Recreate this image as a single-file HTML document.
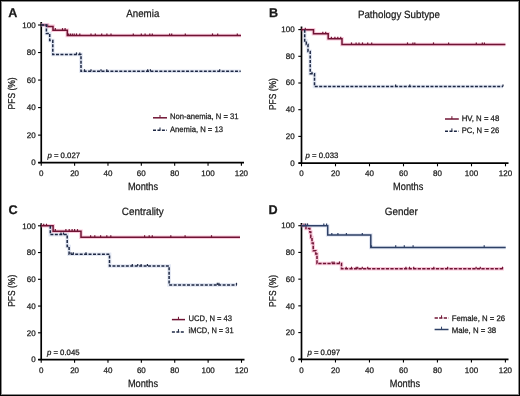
<!DOCTYPE html>
<html><head><meta charset="utf-8"><style>
html,body{margin:0;padding:0;background:#fff;}
body{width:520px;height:396px;overflow:hidden;}
svg{display:block;text-rendering:geometricPrecision;will-change:transform;}
text{font-family:"Liberation Sans", sans-serif;fill:#1a1a1a;stroke:#1a1a1a;stroke-width:0.25px;}
</style></head><body>
<svg width="520" height="396" viewBox="0 0 520 396">
<rect x="0" y="0" width="520" height="396" fill="#fff"/>
<path d="M41.25,22 V162.65" stroke="#000" stroke-width="1.7" fill="none"/>
<path d="M38.25,162.65 H244" stroke="#000" stroke-width="1.7" fill="none"/>
<path d="M38.05,25.00 H41.25" stroke="#000" stroke-width="1.1"/>
<text x="35.65" y="27.80" font-size="8.0" text-anchor="end" font-weight="normal">100</text>
<path d="M38.05,52.53 H41.25" stroke="#000" stroke-width="1.1"/>
<text x="35.65" y="55.33" font-size="8.0" text-anchor="end" font-weight="normal">80</text>
<path d="M38.05,80.06 H41.25" stroke="#000" stroke-width="1.1"/>
<text x="35.65" y="82.86" font-size="8.0" text-anchor="end" font-weight="normal">60</text>
<path d="M38.05,107.59 H41.25" stroke="#000" stroke-width="1.1"/>
<text x="35.65" y="110.39" font-size="8.0" text-anchor="end" font-weight="normal">40</text>
<path d="M38.05,135.12 H41.25" stroke="#000" stroke-width="1.1"/>
<text x="35.65" y="137.92" font-size="8.0" text-anchor="end" font-weight="normal">20</text>
<path d="M38.05,162.65 H41.25" stroke="#000" stroke-width="1.1"/>
<text x="35.65" y="165.45" font-size="8.0" text-anchor="end" font-weight="normal">0</text>
<path d="M41.25,162.65 V165.85" stroke="#000" stroke-width="1.1"/>
<text x="41.25" y="175.95" font-size="8.0" text-anchor="middle" font-weight="normal">0</text>
<path d="M74.61,162.65 V165.85" stroke="#000" stroke-width="1.1"/>
<text x="74.61" y="175.95" font-size="8.0" text-anchor="middle" font-weight="normal">20</text>
<path d="M107.97,162.65 V165.85" stroke="#000" stroke-width="1.1"/>
<text x="107.97" y="175.95" font-size="8.0" text-anchor="middle" font-weight="normal">40</text>
<path d="M141.32,162.65 V165.85" stroke="#000" stroke-width="1.1"/>
<text x="141.32" y="175.95" font-size="8.0" text-anchor="middle" font-weight="normal">60</text>
<path d="M174.68,162.65 V165.85" stroke="#000" stroke-width="1.1"/>
<text x="174.68" y="175.95" font-size="8.0" text-anchor="middle" font-weight="normal">80</text>
<path d="M208.04,162.65 V165.85" stroke="#000" stroke-width="1.1"/>
<text x="208.04" y="175.95" font-size="8.0" text-anchor="middle" font-weight="normal">100</text>
<path d="M241.40,162.65 V165.85" stroke="#000" stroke-width="1.1"/>
<text x="241.40" y="175.95" font-size="8.0" text-anchor="middle" font-weight="normal">120</text>
<text x="8.3" y="16.6" font-size="12.6" text-anchor="start" font-weight="bold">A</text>
<text x="142.8" y="17.4" font-size="10.5" text-anchor="middle" font-weight="normal" textLength="33" lengthAdjust="spacingAndGlyphs">Anemia</text>
<text x="143" y="190.0" font-size="10.5" text-anchor="middle" font-weight="normal" textLength="30.2" lengthAdjust="spacingAndGlyphs">Months</text>
<text transform="translate(15.1,93.4) rotate(-90)" x="0" y="0" font-size="10" text-anchor="middle" textLength="32" lengthAdjust="spacingAndGlyphs">PFS (%)</text>
<text x="47.4" y="157.5" font-size="7.8"><tspan font-style="italic">p</tspan> = 0.027</text>
<path d="M41,24.9 H47.5 V26.4 H53 V30.2 H67.3 V35.5 H241" stroke="#f07aa8" stroke-opacity="0.4" stroke-width="3.6" fill="none"/>
<path d="M41,24.9 H47.5 V26.4 H53 V30.2 H67.3 V35.5 H241" stroke="#701434" stroke-width="1.5" fill="none" stroke-linejoin="miter"/>
<path d="M55.3,30.2 V28.099999999999998" stroke="#701434" stroke-width="1.2"/>
<path d="M62.5,30.2 V28.099999999999998" stroke="#701434" stroke-width="1.2"/>
<path d="M65.1,30.2 V28.099999999999998" stroke="#701434" stroke-width="1.2"/>
<path d="M68.6,35.5 V33.4" stroke="#701434" stroke-width="1.2"/>
<path d="M70.4,35.5 V33.4" stroke="#701434" stroke-width="1.2"/>
<path d="M72.3,35.5 V33.4" stroke="#701434" stroke-width="1.2"/>
<path d="M74.2,35.5 V33.4" stroke="#701434" stroke-width="1.2"/>
<path d="M76.5,35.5 V33.4" stroke="#701434" stroke-width="1.2"/>
<path d="M79.8,35.5 V33.4" stroke="#701434" stroke-width="1.2"/>
<path d="M91,35.5 V33.4" stroke="#701434" stroke-width="1.2"/>
<path d="M95.3,35.5 V33.4" stroke="#701434" stroke-width="1.2"/>
<path d="M101.7,35.5 V33.4" stroke="#701434" stroke-width="1.2"/>
<path d="M106.9,35.5 V33.4" stroke="#701434" stroke-width="1.2"/>
<path d="M111,35.5 V33.4" stroke="#701434" stroke-width="1.2"/>
<path d="M133.3,35.5 V33.4" stroke="#701434" stroke-width="1.2"/>
<path d="M141.3,35.5 V33.4" stroke="#701434" stroke-width="1.2"/>
<path d="M145.1,35.5 V33.4" stroke="#701434" stroke-width="1.2"/>
<path d="M149.8,35.5 V33.4" stroke="#701434" stroke-width="1.2"/>
<path d="M152.3,35.5 V33.4" stroke="#701434" stroke-width="1.2"/>
<path d="M169.6,35.5 V33.4" stroke="#701434" stroke-width="1.2"/>
<path d="M171.7,35.5 V33.4" stroke="#701434" stroke-width="1.2"/>
<path d="M185.3,35.5 V33.4" stroke="#701434" stroke-width="1.2"/>
<path d="M212.5,35.5 V33.4" stroke="#701434" stroke-width="1.2"/>
<path d="M217.7,35.5 V33.4" stroke="#701434" stroke-width="1.2"/>
<path d="M237.3,35.5 V33.4" stroke="#701434" stroke-width="1.2"/>
<path d="M41,25 H46.4 V33.5 H49.7 V40.5 H52.8 V54.5 H81 V71.3 H240.7" stroke="#9fb0d8" stroke-opacity="0.3" stroke-width="3.6" fill="none"/>
<path d="M41,25 H46.4 V33.5 H49.7 V40.5 H52.8 V54.5 H81 V71.3 H240.7" stroke="#1e2844" stroke-width="1.5" fill="none" stroke-dasharray="3.0,1.45" stroke-linejoin="miter"/>
<path d="M76.5,54.5 V52.4" stroke="#1e2844" stroke-width="1.2"/>
<path d="M79.8,54.5 V52.4" stroke="#1e2844" stroke-width="1.2"/>
<path d="M84.5,71.3 V69.2" stroke="#1e2844" stroke-width="1.2"/>
<path d="M91,71.3 V69.2" stroke="#1e2844" stroke-width="1.2"/>
<path d="M101,71.3 V69.2" stroke="#1e2844" stroke-width="1.2"/>
<path d="M106.8,71.3 V69.2" stroke="#1e2844" stroke-width="1.2"/>
<path d="M147.7,71.3 V69.2" stroke="#1e2844" stroke-width="1.2"/>
<path d="M150.4,71.3 V69.2" stroke="#1e2844" stroke-width="1.2"/>
<path d="M219.7,71.3 V69.2" stroke="#1e2844" stroke-width="1.2"/>
<path d="M153,117.8 H167" stroke="#701434" stroke-width="1.5"/>
<path d="M160.0,117.8 V115.0" stroke="#701434" stroke-width="1"/>
<text x="170.0" y="119.2" font-size="8" text-anchor="start" font-weight="normal" textLength="68.5" lengthAdjust="spacingAndGlyphs">Non-anemia, N = 31</text>
<path d="M153,130.3 H167" stroke="#1e2844" stroke-width="1.5" stroke-dasharray="3.0,1.45"/>
<path d="M160.0,130.3 V127.50000000000001" stroke="#1e2844" stroke-width="1"/>
<text x="170.0" y="131.5" font-size="8" text-anchor="start" font-weight="normal" textLength="53" lengthAdjust="spacingAndGlyphs">Anemia, N = 13</text>
<path d="M301.5,26.5 V163.1" stroke="#000" stroke-width="1.7" fill="none"/>
<path d="M298.5,163.1 H508.5" stroke="#000" stroke-width="1.7" fill="none"/>
<path d="M298.3,29.60 H301.5" stroke="#000" stroke-width="1.1"/>
<text x="294.6" y="32.00" font-size="8.0" text-anchor="end" font-weight="normal">100</text>
<path d="M298.3,56.30 H301.5" stroke="#000" stroke-width="1.1"/>
<text x="294.6" y="58.70" font-size="8.0" text-anchor="end" font-weight="normal">80</text>
<path d="M298.3,83.00 H301.5" stroke="#000" stroke-width="1.1"/>
<text x="294.6" y="85.40" font-size="8.0" text-anchor="end" font-weight="normal">60</text>
<path d="M298.3,109.70 H301.5" stroke="#000" stroke-width="1.1"/>
<text x="294.6" y="112.10" font-size="8.0" text-anchor="end" font-weight="normal">40</text>
<path d="M298.3,136.40 H301.5" stroke="#000" stroke-width="1.1"/>
<text x="294.6" y="138.80" font-size="8.0" text-anchor="end" font-weight="normal">20</text>
<path d="M298.3,163.10 H301.5" stroke="#000" stroke-width="1.1"/>
<text x="294.6" y="165.50" font-size="8.0" text-anchor="end" font-weight="normal">0</text>
<path d="M301.50,163.1 V166.29999999999998" stroke="#000" stroke-width="1.1"/>
<text x="301.50" y="175.80" font-size="8.0" text-anchor="middle" font-weight="normal">0</text>
<path d="M335.50,163.1 V166.29999999999998" stroke="#000" stroke-width="1.1"/>
<text x="335.50" y="175.80" font-size="8.0" text-anchor="middle" font-weight="normal">20</text>
<path d="M369.50,163.1 V166.29999999999998" stroke="#000" stroke-width="1.1"/>
<text x="369.50" y="175.80" font-size="8.0" text-anchor="middle" font-weight="normal">40</text>
<path d="M403.50,163.1 V166.29999999999998" stroke="#000" stroke-width="1.1"/>
<text x="403.50" y="175.80" font-size="8.0" text-anchor="middle" font-weight="normal">60</text>
<path d="M437.50,163.1 V166.29999999999998" stroke="#000" stroke-width="1.1"/>
<text x="437.50" y="175.80" font-size="8.0" text-anchor="middle" font-weight="normal">80</text>
<path d="M471.50,163.1 V166.29999999999998" stroke="#000" stroke-width="1.1"/>
<text x="471.50" y="175.80" font-size="8.0" text-anchor="middle" font-weight="normal">100</text>
<path d="M505.50,163.1 V166.29999999999998" stroke="#000" stroke-width="1.1"/>
<text x="505.50" y="175.80" font-size="8.0" text-anchor="middle" font-weight="normal">120</text>
<text x="268.9" y="16.7" font-size="12.6" text-anchor="start" font-weight="bold">B</text>
<text x="398.9" y="17.8" font-size="10.5" text-anchor="middle" font-weight="normal" textLength="82" lengthAdjust="spacingAndGlyphs">Pathology Subtype</text>
<text x="408.2" y="190.1" font-size="10.5" text-anchor="middle" font-weight="normal" textLength="30.2" lengthAdjust="spacingAndGlyphs">Months</text>
<text transform="translate(276.3,94.1) rotate(-90)" x="0" y="0" font-size="10" text-anchor="middle" textLength="32" lengthAdjust="spacingAndGlyphs">PFS (%)</text>
<text x="305.6" y="158.3" font-size="7.8"><tspan font-style="italic">p</tspan> = 0.033</text>
<path d="M301.5,29.8 H313.5 V33.8 H328.2 V38.8 H342 V44.5 H505.4" stroke="#f07aa8" stroke-opacity="0.4" stroke-width="3.6" fill="none"/>
<path d="M301.5,29.8 H313.5 V33.8 H328.2 V38.8 H342 V44.5 H505.4" stroke="#701434" stroke-width="1.5" fill="none" stroke-linejoin="miter"/>
<path d="M305.3,29.8 V27.7" stroke="#701434" stroke-width="1.2"/>
<path d="M322.8,33.8 V31.699999999999996" stroke="#701434" stroke-width="1.2"/>
<path d="M325.7,33.8 V31.699999999999996" stroke="#701434" stroke-width="1.2"/>
<path d="M331.4,38.8 V36.699999999999996" stroke="#701434" stroke-width="1.2"/>
<path d="M334.9,38.8 V36.699999999999996" stroke="#701434" stroke-width="1.2"/>
<path d="M337.8,38.8 V36.699999999999996" stroke="#701434" stroke-width="1.2"/>
<path d="M340.7,38.8 V36.699999999999996" stroke="#701434" stroke-width="1.2"/>
<path d="M351.5,44.5 V42.4" stroke="#701434" stroke-width="1.2"/>
<path d="M356.1,44.5 V42.4" stroke="#701434" stroke-width="1.2"/>
<path d="M359,44.5 V42.4" stroke="#701434" stroke-width="1.2"/>
<path d="M362.5,44.5 V42.4" stroke="#701434" stroke-width="1.2"/>
<path d="M367.7,44.5 V42.4" stroke="#701434" stroke-width="1.2"/>
<path d="M371.7,44.5 V42.4" stroke="#701434" stroke-width="1.2"/>
<path d="M407.5,44.5 V42.4" stroke="#701434" stroke-width="1.2"/>
<path d="M412.9,44.5 V42.4" stroke="#701434" stroke-width="1.2"/>
<path d="M414.8,44.5 V42.4" stroke="#701434" stroke-width="1.2"/>
<path d="M433.5,44.5 V42.4" stroke="#701434" stroke-width="1.2"/>
<path d="M448.6,44.5 V42.4" stroke="#701434" stroke-width="1.2"/>
<path d="M476.3,44.5 V42.4" stroke="#701434" stroke-width="1.2"/>
<path d="M482.3,44.5 V42.4" stroke="#701434" stroke-width="1.2"/>
<path d="M484.4,44.5 V42.4" stroke="#701434" stroke-width="1.2"/>
<path d="M304.7,29.8 V41 H306.3 V44.5 H308 V51.5 H310.2 V73.8 H314.5 V86.5 H503" stroke="#9fb0d8" stroke-opacity="0.3" stroke-width="3.6" fill="none"/>
<path d="M304.7,29.8 V41 H306.3 V44.5 H308 V51.5 H310.2 V73.8 H314.5 V86.5 H503" stroke="#1e2844" stroke-width="1.5" fill="none" stroke-dasharray="3.0,1.45" stroke-linejoin="miter"/>
<path d="M312,73.8 V71.7" stroke="#1e2844" stroke-width="1.2"/>
<path d="M395.6,86.5 V84.4" stroke="#1e2844" stroke-width="1.2"/>
<path d="M409.8,86.5 V84.4" stroke="#1e2844" stroke-width="1.2"/>
<path d="M503,86.5 V84.4" stroke="#1e2844" stroke-width="1.2"/>
<path d="M445,119.0 H458.8" stroke="#701434" stroke-width="1.5"/>
<path d="M451.9,119.0 V116.2" stroke="#701434" stroke-width="1"/>
<text x="461.7" y="120.6" font-size="8" text-anchor="start" font-weight="normal" textLength="37.6" lengthAdjust="spacingAndGlyphs">HV, N = 48</text>
<path d="M445,131.2 H458.8" stroke="#1e2844" stroke-width="1.5" stroke-dasharray="3.0,1.45"/>
<path d="M451.9,131.2 V128.39999999999998" stroke="#1e2844" stroke-width="1"/>
<text x="461.7" y="132.5" font-size="8" text-anchor="start" font-weight="normal" textLength="37.6" lengthAdjust="spacingAndGlyphs">PC, N = 26</text>
<path d="M41.2,223.3 V359.55" stroke="#000" stroke-width="1.7" fill="none"/>
<path d="M38.2,359.55 H244.5" stroke="#000" stroke-width="1.7" fill="none"/>
<path d="M38.0,225.80 H41.2" stroke="#000" stroke-width="1.1"/>
<text x="35.6" y="228.70" font-size="8.0" text-anchor="end" font-weight="normal">100</text>
<path d="M38.0,252.55 H41.2" stroke="#000" stroke-width="1.1"/>
<text x="35.6" y="255.45" font-size="8.0" text-anchor="end" font-weight="normal">80</text>
<path d="M38.0,279.30 H41.2" stroke="#000" stroke-width="1.1"/>
<text x="35.6" y="282.20" font-size="8.0" text-anchor="end" font-weight="normal">60</text>
<path d="M38.0,306.05 H41.2" stroke="#000" stroke-width="1.1"/>
<text x="35.6" y="308.95" font-size="8.0" text-anchor="end" font-weight="normal">40</text>
<path d="M38.0,332.80 H41.2" stroke="#000" stroke-width="1.1"/>
<text x="35.6" y="335.70" font-size="8.0" text-anchor="end" font-weight="normal">20</text>
<path d="M38.0,359.55 H41.2" stroke="#000" stroke-width="1.1"/>
<text x="35.6" y="362.45" font-size="8.0" text-anchor="end" font-weight="normal">0</text>
<path d="M41.20,359.55 V362.75" stroke="#000" stroke-width="1.1"/>
<text x="41.20" y="372.55" font-size="8.0" text-anchor="middle" font-weight="normal">0</text>
<path d="M74.58,359.55 V362.75" stroke="#000" stroke-width="1.1"/>
<text x="74.58" y="372.55" font-size="8.0" text-anchor="middle" font-weight="normal">20</text>
<path d="M107.97,359.55 V362.75" stroke="#000" stroke-width="1.1"/>
<text x="107.97" y="372.55" font-size="8.0" text-anchor="middle" font-weight="normal">40</text>
<path d="M141.35,359.55 V362.75" stroke="#000" stroke-width="1.1"/>
<text x="141.35" y="372.55" font-size="8.0" text-anchor="middle" font-weight="normal">60</text>
<path d="M174.73,359.55 V362.75" stroke="#000" stroke-width="1.1"/>
<text x="174.73" y="372.55" font-size="8.0" text-anchor="middle" font-weight="normal">80</text>
<path d="M208.12,359.55 V362.75" stroke="#000" stroke-width="1.1"/>
<text x="208.12" y="372.55" font-size="8.0" text-anchor="middle" font-weight="normal">100</text>
<path d="M241.50,359.55 V362.75" stroke="#000" stroke-width="1.1"/>
<text x="241.50" y="372.55" font-size="8.0" text-anchor="middle" font-weight="normal">120</text>
<text x="8.6" y="213.5" font-size="12.6" text-anchor="start" font-weight="bold">C</text>
<text x="142.8" y="214.7" font-size="10.5" text-anchor="middle" font-weight="normal" textLength="42" lengthAdjust="spacingAndGlyphs">Centrality</text>
<text x="143" y="386.5" font-size="10.5" text-anchor="middle" font-weight="normal" textLength="30.2" lengthAdjust="spacingAndGlyphs">Months</text>
<text transform="translate(15.2,290.8) rotate(-90)" x="0" y="0" font-size="10" text-anchor="middle" textLength="32" lengthAdjust="spacingAndGlyphs">PFS (%)</text>
<text x="46.9" y="354.9" font-size="7.8"><tspan font-style="italic">p</tspan> = 0.045</text>
<path d="M41,225.8 H53.1 V231.2 H81 V237.3 H240" stroke="#f07aa8" stroke-opacity="0.4" stroke-width="3.6" fill="none"/>
<path d="M41,225.8 H53.1 V231.2 H81 V237.3 H240" stroke="#701434" stroke-width="1.5" fill="none" stroke-linejoin="miter"/>
<path d="M43.7,225.8 V223.70000000000002" stroke="#701434" stroke-width="1.2"/>
<path d="M46.5,225.8 V223.70000000000002" stroke="#701434" stroke-width="1.2"/>
<path d="M55.3,231.2 V229.1" stroke="#701434" stroke-width="1.2"/>
<path d="M65.9,231.2 V229.1" stroke="#701434" stroke-width="1.2"/>
<path d="M69.2,231.2 V229.1" stroke="#701434" stroke-width="1.2"/>
<path d="M72.1,231.2 V229.1" stroke="#701434" stroke-width="1.2"/>
<path d="M74.6,231.2 V229.1" stroke="#701434" stroke-width="1.2"/>
<path d="M77.5,231.2 V229.1" stroke="#701434" stroke-width="1.2"/>
<path d="M90.6,237.3 V235.20000000000002" stroke="#701434" stroke-width="1.2"/>
<path d="M94.8,237.3 V235.20000000000002" stroke="#701434" stroke-width="1.2"/>
<path d="M100.6,237.3 V235.20000000000002" stroke="#701434" stroke-width="1.2"/>
<path d="M106.8,237.3 V235.20000000000002" stroke="#701434" stroke-width="1.2"/>
<path d="M110.8,237.3 V235.20000000000002" stroke="#701434" stroke-width="1.2"/>
<path d="M144.6,237.3 V235.20000000000002" stroke="#701434" stroke-width="1.2"/>
<path d="M149.2,237.3 V235.20000000000002" stroke="#701434" stroke-width="1.2"/>
<path d="M152.3,237.3 V235.20000000000002" stroke="#701434" stroke-width="1.2"/>
<path d="M170.8,237.3 V235.20000000000002" stroke="#701434" stroke-width="1.2"/>
<path d="M185.1,237.3 V235.20000000000002" stroke="#701434" stroke-width="1.2"/>
<path d="M211.5,237.3 V235.20000000000002" stroke="#701434" stroke-width="1.2"/>
<path d="M50.3,225.8 V234.6 H67.2 V246.5 H69.1 V254.3 H109.5 V266 H169.1 V284.9 H236.9" stroke="#9fb0d8" stroke-opacity="0.3" stroke-width="3.6" fill="none"/>
<path d="M50.3,225.8 V234.6 H67.2 V246.5 H69.1 V254.3 H109.5 V266 H169.1 V284.9 H236.9" stroke="#1e2844" stroke-width="1.5" fill="none" stroke-dasharray="3.0,1.45" stroke-linejoin="miter"/>
<path d="M61,234.6 V232.5" stroke="#1e2844" stroke-width="1.2"/>
<path d="M63.5,234.6 V232.5" stroke="#1e2844" stroke-width="1.2"/>
<path d="M71,254.3 V252.20000000000002" stroke="#1e2844" stroke-width="1.2"/>
<path d="M73.3,254.3 V252.20000000000002" stroke="#1e2844" stroke-width="1.2"/>
<path d="M86,254.3 V252.20000000000002" stroke="#1e2844" stroke-width="1.2"/>
<path d="M132.3,266 V263.9" stroke="#1e2844" stroke-width="1.2"/>
<path d="M137.7,266 V263.9" stroke="#1e2844" stroke-width="1.2"/>
<path d="M141.1,266 V263.9" stroke="#1e2844" stroke-width="1.2"/>
<path d="M147.4,266 V263.9" stroke="#1e2844" stroke-width="1.2"/>
<path d="M217.3,284.9 V282.79999999999995" stroke="#1e2844" stroke-width="1.2"/>
<path d="M218.9,284.9 V282.79999999999995" stroke="#1e2844" stroke-width="1.2"/>
<path d="M236.5,284.9 V282.79999999999995" stroke="#1e2844" stroke-width="1.2"/>
<path d="M171.9,319.6 H185" stroke="#701434" stroke-width="1.5"/>
<path d="M178.45,319.6 V316.8" stroke="#701434" stroke-width="1"/>
<text x="188.6" y="320.8" font-size="8" text-anchor="start" font-weight="normal" textLength="43.5" lengthAdjust="spacingAndGlyphs">UCD, N = 43</text>
<path d="M171.9,331.9 H185" stroke="#1e2844" stroke-width="1.5" stroke-dasharray="3.0,1.45"/>
<path d="M178.45,331.9 V329.09999999999997" stroke="#1e2844" stroke-width="1"/>
<text x="188.6" y="333.2" font-size="8" text-anchor="start" font-weight="normal" textLength="45" lengthAdjust="spacingAndGlyphs">iMCD, N = 31</text>
<path d="M301.5,223 V359.3" stroke="#000" stroke-width="1.7" fill="none"/>
<path d="M298.5,359.3 H508.5" stroke="#000" stroke-width="1.7" fill="none"/>
<path d="M298.3,225.70 H301.5" stroke="#000" stroke-width="1.1"/>
<text x="294.6" y="228.40" font-size="8.0" text-anchor="end" font-weight="normal">100</text>
<path d="M298.3,252.42 H301.5" stroke="#000" stroke-width="1.1"/>
<text x="294.6" y="255.12" font-size="8.0" text-anchor="end" font-weight="normal">80</text>
<path d="M298.3,279.14 H301.5" stroke="#000" stroke-width="1.1"/>
<text x="294.6" y="281.84" font-size="8.0" text-anchor="end" font-weight="normal">60</text>
<path d="M298.3,305.86 H301.5" stroke="#000" stroke-width="1.1"/>
<text x="294.6" y="308.56" font-size="8.0" text-anchor="end" font-weight="normal">40</text>
<path d="M298.3,332.58 H301.5" stroke="#000" stroke-width="1.1"/>
<text x="294.6" y="335.28" font-size="8.0" text-anchor="end" font-weight="normal">20</text>
<path d="M298.3,359.30 H301.5" stroke="#000" stroke-width="1.1"/>
<text x="294.6" y="362.00" font-size="8.0" text-anchor="end" font-weight="normal">0</text>
<path d="M301.50,359.3 V362.5" stroke="#000" stroke-width="1.1"/>
<text x="301.50" y="372.90" font-size="8.0" text-anchor="middle" font-weight="normal">0</text>
<path d="M335.48,359.3 V362.5" stroke="#000" stroke-width="1.1"/>
<text x="335.48" y="372.90" font-size="8.0" text-anchor="middle" font-weight="normal">20</text>
<path d="M369.47,359.3 V362.5" stroke="#000" stroke-width="1.1"/>
<text x="369.47" y="372.90" font-size="8.0" text-anchor="middle" font-weight="normal">40</text>
<path d="M403.45,359.3 V362.5" stroke="#000" stroke-width="1.1"/>
<text x="403.45" y="372.90" font-size="8.0" text-anchor="middle" font-weight="normal">60</text>
<path d="M437.43,359.3 V362.5" stroke="#000" stroke-width="1.1"/>
<text x="437.43" y="372.90" font-size="8.0" text-anchor="middle" font-weight="normal">80</text>
<path d="M471.42,359.3 V362.5" stroke="#000" stroke-width="1.1"/>
<text x="471.42" y="372.90" font-size="8.0" text-anchor="middle" font-weight="normal">100</text>
<path d="M505.40,359.3 V362.5" stroke="#000" stroke-width="1.1"/>
<text x="505.40" y="372.90" font-size="8.0" text-anchor="middle" font-weight="normal">120</text>
<text x="268.6" y="213.5" font-size="12.6" text-anchor="start" font-weight="bold">D</text>
<text x="401.2" y="214.6" font-size="10.5" text-anchor="middle" font-weight="normal" textLength="33" lengthAdjust="spacingAndGlyphs">Gender</text>
<text x="404.9" y="386.5" font-size="10.5" text-anchor="middle" font-weight="normal" textLength="30.2" lengthAdjust="spacingAndGlyphs">Months</text>
<text transform="translate(276.4,290.9) rotate(-90)" x="0" y="0" font-size="10" text-anchor="middle" textLength="32" lengthAdjust="spacingAndGlyphs">PFS (%)</text>
<text x="307.4" y="355.1" font-size="7.8"><tspan font-style="italic">p</tspan> = 0.097</text>
<path d="M301.5,225.7 H306 V228.5 H309.8 V232 H310.8 V237.5 H312 V243 H313.2 V250.8 H315.8 V254 H317 V263.5 H341.5 V268.8 H504" stroke="#f07aa8" stroke-opacity="0.4" stroke-width="3.6" fill="none"/>
<path d="M301.5,225.7 H306 V228.5 H309.8 V232 H310.8 V237.5 H312 V243 H313.2 V250.8 H315.8 V254 H317 V263.5 H341.5 V268.8 H504" stroke="#701434" stroke-width="1.5" fill="none" stroke-dasharray="3.3,1.25" stroke-linejoin="miter"/>
<path d="M304,225.7 V223.6" stroke="#701434" stroke-width="1.2"/>
<path d="M307.5,225.7 V223.6" stroke="#701434" stroke-width="1.2"/>
<path d="M332.1,263.5 V261.4" stroke="#701434" stroke-width="1.2"/>
<path d="M334,263.5 V261.4" stroke="#701434" stroke-width="1.2"/>
<path d="M339.5,263.5 V261.4" stroke="#701434" stroke-width="1.2"/>
<path d="M346.2,268.8 V266.7" stroke="#701434" stroke-width="1.2"/>
<path d="M351.5,268.8 V266.7" stroke="#701434" stroke-width="1.2"/>
<path d="M356.2,268.8 V266.7" stroke="#701434" stroke-width="1.2"/>
<path d="M357.7,268.8 V266.7" stroke="#701434" stroke-width="1.2"/>
<path d="M362.3,268.8 V266.7" stroke="#701434" stroke-width="1.2"/>
<path d="M367.7,268.8 V266.7" stroke="#701434" stroke-width="1.2"/>
<path d="M405.9,268.8 V266.7" stroke="#701434" stroke-width="1.2"/>
<path d="M409.5,268.8 V266.7" stroke="#701434" stroke-width="1.2"/>
<path d="M413.7,268.8 V266.7" stroke="#701434" stroke-width="1.2"/>
<path d="M433.8,268.8 V266.7" stroke="#701434" stroke-width="1.2"/>
<path d="M447.6,268.8 V266.7" stroke="#701434" stroke-width="1.2"/>
<path d="M476.1,268.8 V266.7" stroke="#701434" stroke-width="1.2"/>
<path d="M480.3,268.8 V266.7" stroke="#701434" stroke-width="1.2"/>
<path d="M502.5,268.8 V266.7" stroke="#701434" stroke-width="1.2"/>
<path d="M301.5,225.7 H327.7 V235 H370.8 V247.45 H505.7" stroke="#9fb0d8" stroke-opacity="0.3" stroke-width="3.6" fill="none"/>
<path d="M301.5,225.7 H327.7 V235 H370.8 V247.45 H505.7" stroke="#2e4066" stroke-width="1.5" fill="none" stroke-linejoin="miter"/>
<path d="M305.6,225.7 V223.6" stroke="#2e4066" stroke-width="1.2"/>
<path d="M307.5,225.7 V223.6" stroke="#2e4066" stroke-width="1.2"/>
<path d="M323.8,225.7 V223.6" stroke="#2e4066" stroke-width="1.2"/>
<path d="M326.6,225.7 V223.6" stroke="#2e4066" stroke-width="1.2"/>
<path d="M331.8,235 V232.9" stroke="#2e4066" stroke-width="1.2"/>
<path d="M337.9,235 V232.9" stroke="#2e4066" stroke-width="1.2"/>
<path d="M346.4,235 V232.9" stroke="#2e4066" stroke-width="1.2"/>
<path d="M362.3,235 V232.9" stroke="#2e4066" stroke-width="1.2"/>
<path d="M371.5,247.45 V245.35" stroke="#2e4066" stroke-width="1.2"/>
<path d="M395.7,247.45 V245.35" stroke="#2e4066" stroke-width="1.2"/>
<path d="M404.3,247.45 V245.35" stroke="#2e4066" stroke-width="1.2"/>
<path d="M413.1,247.45 V245.35" stroke="#2e4066" stroke-width="1.2"/>
<path d="M484.2,247.45 V245.35" stroke="#2e4066" stroke-width="1.2"/>
<path d="M434.6,318.1 H448.5" stroke="#701434" stroke-width="1.5" stroke-dasharray="3.3,1.25"/>
<path d="M441.55,318.1 V315.3" stroke="#701434" stroke-width="1"/>
<text x="451.7" y="320.8" font-size="8" text-anchor="start" font-weight="normal" textLength="53.5" lengthAdjust="spacingAndGlyphs">Female, N = 26</text>
<path d="M434.6,329.5 H448.5" stroke="#2e4066" stroke-width="1.5"/>
<path d="M441.55,329.5 V326.7" stroke="#2e4066" stroke-width="1"/>
<text x="451.7" y="332.7" font-size="8" text-anchor="start" font-weight="normal" textLength="44.5" lengthAdjust="spacingAndGlyphs">Male, N = 38</text>
<rect x="0.5" y="0.5" width="519" height="395" fill="none" stroke="#000" stroke-width="1"/>
<rect x="1.5" y="1.5" width="517" height="393" fill="none" stroke="#000" stroke-opacity="0.45" stroke-width="1"/>
</svg>
</body></html>
